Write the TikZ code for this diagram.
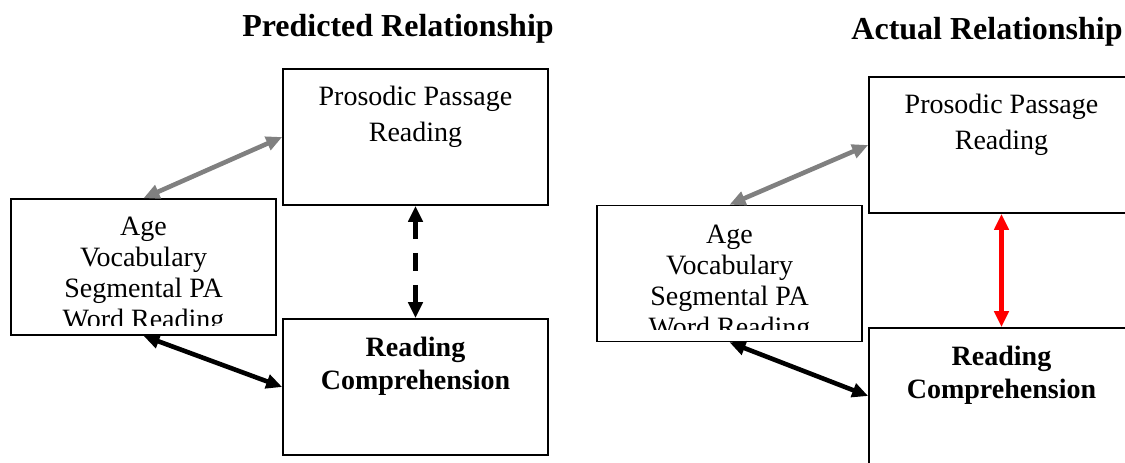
\documentclass[tikz,border=0pt]{standalone}
\usepackage{fontspec}
\setmainfont{Liberation Serif}
\usetikzlibrary{arrows.meta, positioning}
\definecolor{linkgray}{HTML}{808080}
\definecolor{linkred}{HTML}{FF0000}

\begin{document}
\begin{tikzpicture}[x=0.5pt, y=-0.5pt,
    varbox/.style={draw, line width=0.8pt, minimum width=132.5pt, minimum height=68pt, inner sep=0pt},
    boxtext/.style={inner sep=0pt, align=center, font=\fontsize{14}{#1}\selectfont},
    comptext/.style={inner sep=0pt, align=center, font=\fontsize{14}{16.5}\selectfont\bfseries},
    heading/.style={anchor=base, font=\fontsize{16}{19}\selectfont\bfseries},
    link/.style={line width=2.3pt, {Triangle[length=8pt,width=7pt]}-{Triangle[length=8pt,width=7pt]}}]
  \path[use as bounding box, clip] (0,0) rectangle (1125,462);

  % predicted model
  \node[heading] (predTitle) at (398,36) {Predicted Relationship};
  \node[varbox] (ppL) at (415.5,137) {};
  \node[varbox] (agL) at (143.5,267) {};
  \node[varbox] (cpL) at (415.5,387) {};
  \node[boxtext=18, below=8.7pt of ppL.north] (ppLtext) {Prosodic Passage\\Reading};
  \begin{scope}
    \clip (agL.north west) rectangle ([yshift=5pt]agL.south east);
    \node[boxtext=15.5, below=9pt of agL.north] (agLtext) {Age\\Vocabulary\\Segmental PA\\Word Reading};
  \end{scope}
  \node[comptext, below=9.3pt of cpL.north] (cpLtext) {Reading\\Comprehension};
  \draw[link, linkgray] (agL.north) -- (ppL.west);
  \draw[link] (agL.south) -- (cpL.west);
  \draw[link, dash pattern=on 9pt off 7pt] (ppL.south) -- (cpL.north);

  % actual model
  \node[heading] (actTitle) at (987,39) {Actual Relationship};
  \node[varbox] (ppR) at (1001.5,145) {};
  \node[varbox] (agR) at (729.5,273.5) {};
  \node[varbox] (cpR) at (1001.5,396) {};
  \node[boxtext=18, below=8.7pt of ppR.north] (ppRtext) {Prosodic Passage\\Reading};
  \begin{scope}
    \clip (agR.north west) rectangle ([yshift=6.25pt]agR.south east);
    \node[boxtext=15.5, below=10pt of agR.north] (agRtext) {Age\\Vocabulary\\Segmental PA\\Word Reading};
  \end{scope}
  \node[comptext, below=9.3pt of cpR.north] (cpRtext) {Reading\\Comprehension};
  \draw[link, linkgray] (agR.north) -- (ppR.west);
  \draw[link] (agR.south) -- (cpR.west);
  \draw[link, linkred] (ppR.south) -- (cpR.north);
\end{tikzpicture}
\end{document}
